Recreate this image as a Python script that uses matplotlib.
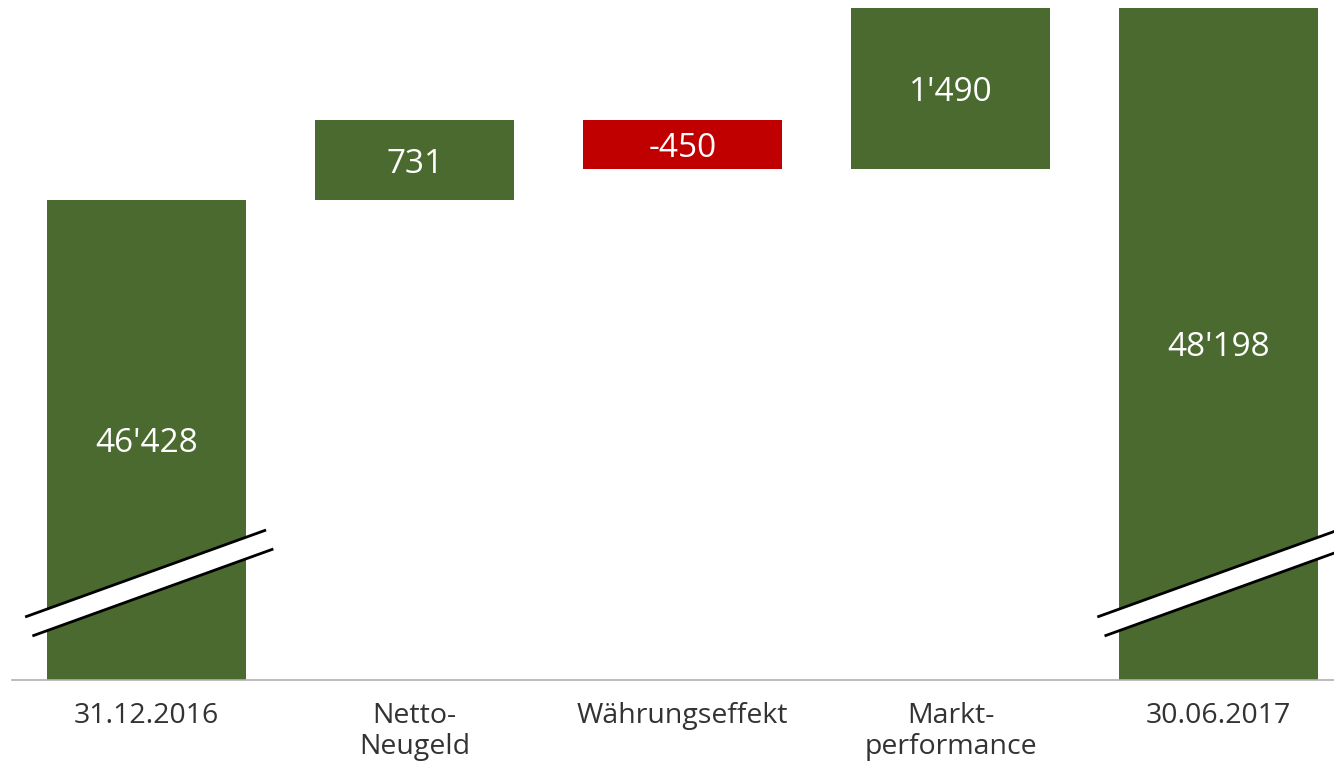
import numpy as np
import matplotlib.pyplot as plt

# data
categories = ['31.12.2016', 'Netto-\nNeugeld', 'Währungseffekt', 'Markt-\nperformance', '30.06.2017']
start_value = 46428
changes = [731, -450, 1490]
end_value = 48198

GREEN = '#4a6a2f'
RED = '#c00000'

plt.rcParams['font.family'] = ['Open Sans', 'DejaVu Sans']

fig = plt.figure(figsize=(13.34, 7.67), dpi=100)
ax = fig.add_axes([12 / 1334, 87 / 767, 1322 / 1334, 680 / 767])

base = 42000
ax.set_ylim(base, base + 6269)
ax.set_xlim(-0.502, 4.43)

x = np.arange(len(categories))
width = 0.743
lbl_size = 24

# totals
ax.bar(x[0], start_value - base, bottom=base, width=width, color=GREEN)
ax.bar(x[-1], end_value - base, bottom=base, width=width, color=GREEN)
ax.text(x[0], (start_value + base) / 2, f"{start_value:,}".replace(',', "'"),
        ha='center', va='center_baseline', color='white', fontsize=lbl_size)
ax.text(x[-1], (end_value + base) / 2, f"{end_value:,}".replace(',', "'"),
        ha='center', va='center_baseline', color='white', fontsize=lbl_size)

# floating bars
level = start_value
for i, d in enumerate(changes):
    lo, hi = sorted([level, level + d])
    ax.bar(x[i + 1], hi - lo, bottom=lo, width=width, color=GREEN if d > 0 else RED)
    ax.text(x[i + 1], (lo + hi) / 2, f"{d:,}".replace(',', "'"),
            ha='center', va='center_baseline', color='white', fontsize=lbl_size)
    level += d

# axis break marks on the total bars
for xc in (x[0], x[-1]):
    x0, x1 = xc - 0.453, xc + 0.446
    y0, y1 = 42581, 43383
    dx, dy = 0.027, -175
    band = plt.Polygon([[x0, y0], [x1, y1], [x1 + dx, y1 + dy], [x0 + dx, y0 + dy]],
                       closed=True, facecolor='white', edgecolor='none', clip_on=False, zorder=3)
    ax.add_patch(band)
    ax.plot([x0, x1], [y0, y1], color='black', lw=2, clip_on=False, zorder=4, solid_capstyle='butt')
    ax.plot([x0 + dx, x1 + dx], [y0 + dy, y1 + dy], color='black', lw=2, clip_on=False, zorder=4,
            solid_capstyle='butt')

for s in ['top', 'right', 'left']:
    ax.spines[s].set_visible(False)
ax.spines['bottom'].set_color('#b0b0b0')
ax.spines['bottom'].set_linewidth(1.2)
ax.set_yticks([])
ax.set_xticks(x)
ax.set_xticklabels(categories, fontsize=20.5, color='#333333', linespacing=1.13)
ax.tick_params(axis='x', length=0, pad=16)

fig.savefig('out.png', dpi=100)
